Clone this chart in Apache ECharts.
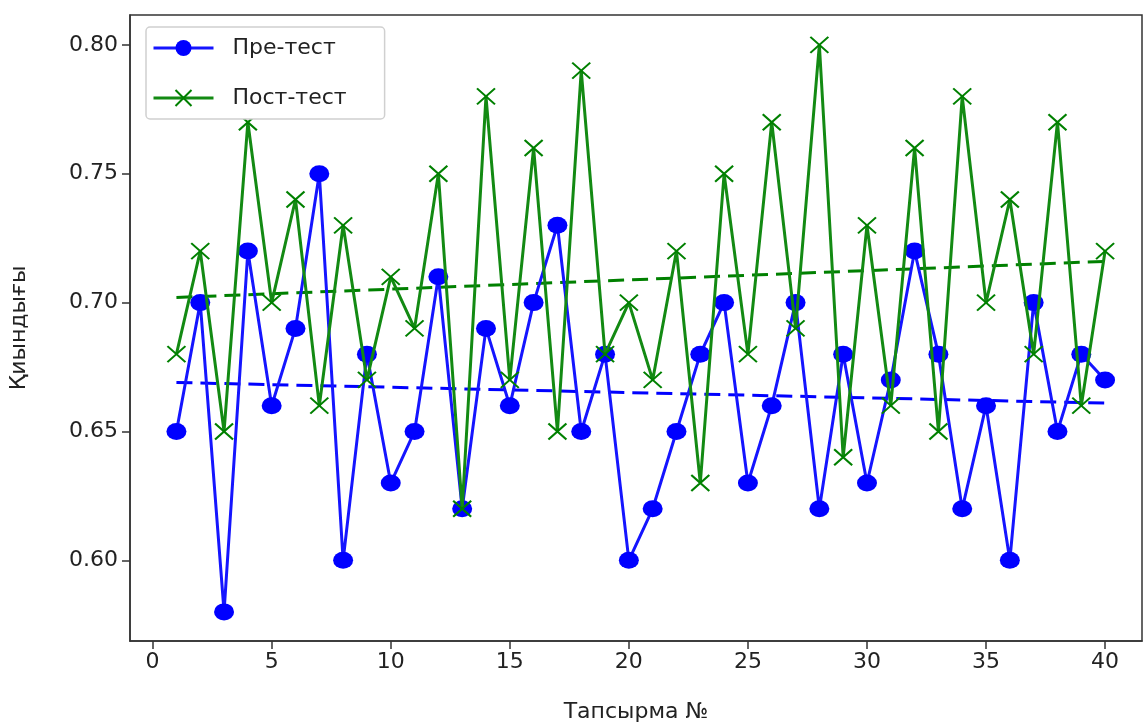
<!DOCTYPE html>
<html>
<head>
<meta charset="utf-8">
<script src="https://cdn.jsdelivr.net/npm/echarts@6/dist/echarts.min.js"></script>
<style>
  html, body { margin: 0; padding: 0; background: #fff; }
  #chart { width: 1144px; height: 728px; }
</style>
</head>
<body>
<div id="chart"></div>
<script>
// task numbers (x axis)
const taskNo = [1, 2, 3, 4, 5, 6, 7, 8, 9, 10, 11, 12, 13, 14, 15, 16, 17, 18, 19, 20,
  21, 22, 23, 24, 25, 26, 27, 28, 29, 30, 31, 32, 33, 34, 35, 36, 37, 38, 39, 40];

// difficulty values
const preTest = [0.65, 0.70, 0.58, 0.72, 0.66, 0.69, 0.75, 0.60, 0.68, 0.63,
  0.65, 0.71, 0.62, 0.69, 0.66, 0.70, 0.73, 0.65, 0.68, 0.60,
  0.62, 0.65, 0.68, 0.70, 0.63, 0.66, 0.70, 0.62, 0.68, 0.63,
  0.67, 0.72, 0.68, 0.62, 0.66, 0.60, 0.70, 0.65, 0.68, 0.67];
const postTest = [0.68, 0.72, 0.65, 0.77, 0.70, 0.74, 0.66, 0.73, 0.67, 0.71,
  0.69, 0.75, 0.62, 0.78, 0.67, 0.76, 0.65, 0.79, 0.68, 0.70,
  0.67, 0.72, 0.63, 0.75, 0.68, 0.77, 0.69, 0.80, 0.64, 0.73,
  0.66, 0.76, 0.65, 0.78, 0.70, 0.74, 0.68, 0.77, 0.66, 0.72];

// dashed trend lines: [x, y] ends
const trendX = [1, 40];
const preTrend = [0.669, 0.661];
const postTrend = [0.702, 0.716];

const xTicks = [0, 5, 10, 15, 20, 25, 30, 35, 40];
const yTicks = [0.60, 0.65, 0.70, 0.75, 0.80];

const FONT = "DejaVu Sans";
const pair = (xs, ys) => xs.map((x, i) => [x, ys[i]]);

const chart = echarts.init(document.getElementById("chart"));
const crossPath = "path://M0,0L10,10M10,0L0,10";

const option = {
  animation: false,
  textStyle: { fontFamily: FONT },
  grid: {
    left: 130,
    right: 2,
    top: 15,
    bottom: 85,
    show: true,
    borderColor: "#333",
    borderWidth: 1.5,
    backgroundColor: "transparent",
  },
  legend: {
    orient: "vertical",
    left: 146,
    top: 27,
    padding: [10, 38, 10, 6],
    itemWidth: 60,
    itemHeight: 20,
    itemGap: 28,
    borderColor: "#d0d0d0",
    borderWidth: 1.5,
    borderRadius: 4,
    backgroundColor: "#fff",
    lineStyle: { width: 3 },
    textStyle: { fontFamily: FONT, fontSize: 22, color: "#222", padding: [0, 0, 0, 14] },
    data: ["Пре-тест", "Пост-тест"],
  },
  xAxis: {
    type: "value",
    min: -0.95,
    max: 41.55,
    name: "Тапсырма №",
    nameLocation: "middle",
    nameGap: 60,
    nameTextStyle: { fontFamily: FONT, fontSize: 22, color: "#222" },
    splitLine: { show: false },
    axisLine: { show: true, onZero: false, lineStyle: { color: "#333", width: 1.5 } },
    axisTick: { show: true, length: 8, lineStyle: { color: "#333", width: 1.5 }, customValues: xTicks },
    axisLabel: { fontFamily: FONT, fontSize: 22, color: "#222", margin: 10, customValues: xTicks },
  },
  yAxis: {
    type: "value",
    min: 0.5687,
    max: 0.8116,
    name: "Қиындығы",
    nameLocation: "middle",
    nameGap: 100,
    nameTextStyle: { fontFamily: FONT, fontSize: 22, color: "#222" },
    splitLine: { show: false },
    axisLine: { show: true, onZero: false, lineStyle: { color: "#333", width: 1.5 } },
    axisTick: { show: true, length: 8, lineStyle: { color: "#333", width: 1.5 }, customValues: yTicks },
    axisLabel: {
      fontFamily: FONT, fontSize: 22, color: "#222", margin: 12,
      customValues: yTicks,
      formatter: (v) => v.toFixed(2),
    },
  },
  series: [
    {
      name: "Пре-тест trend",
      type: "line",
      data: pair(trendX, preTrend),
      symbol: "none",
      lineStyle: { color: "#0000ff", width: 3, type: [16, 8] },
      z: 1,
    },
    {
      name: "Пост-тест trend",
      type: "line",
      data: pair(trendX, postTrend),
      symbol: "none",
      lineStyle: { color: "#008000", width: 3, type: [16, 8] },
      z: 1,
    },
    {
      name: "Пре-тест",
      type: "line",
      data: pair(taskNo, preTest),
      symbol: "circle",
      symbolSize: [20, 17],
      showAllSymbol: true,
      itemStyle: { color: "#0000ff" },
      lineStyle: { color: "#1515ff", width: 3 },
      z: 2,
    },
    {
      name: "Пост-тест",
      type: "line",
      data: pair(taskNo, postTest),
      symbol: crossPath,
      symbolSize: [18, 16],
      showAllSymbol: true,
      itemStyle: { color: "#008000", borderColor: "#008000", borderWidth: 2 },
      lineStyle: { color: "#138a13", width: 3 },
      z: 3,
    },
  ],
};

chart.setOption(option);
</script>
</body>
</html>
